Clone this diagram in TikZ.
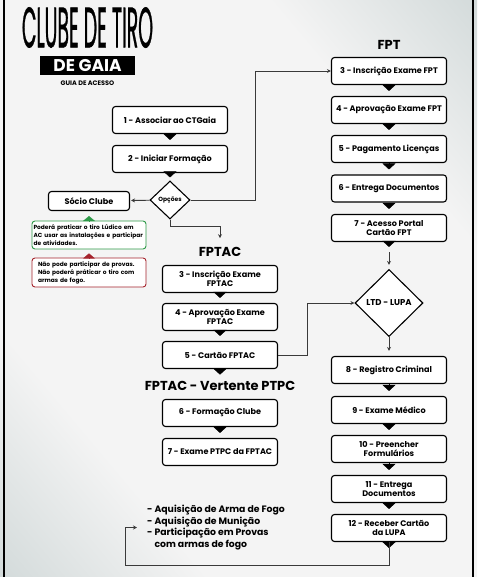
\documentclass[tikz,border=0pt]{standalone}
\usepackage{fontspec}
\setmainfont{Poppins}
\newfontfamily\titulofonte{Poppins}[FakeBold=1.2]
\usetikzlibrary{arrows.meta,shapes.geometric}

\definecolor{bgdark}{HTML}{B4C2C2}
\definecolor{bglight}{HTML}{F4F4F4}
\definecolor{verde}{HTML}{2E9A48}
\definecolor{vermelho}{HTML}{A5232C}
\definecolor{linha}{HTML}{3A3A3A}
\pgfdeclarehorizontalshading{fundo}{100bp}{color(0bp)=(bgdark); color(30bp)=(bglight); color(70bp)=(bglight); color(100bp)=(bgdark)}

\begin{document}
\begin{tikzpicture}[x=1pt,y=-1pt,
    passo/.style={draw, line width=1.1pt, rounded corners=3pt, fill=white,
        minimum width=115pt, minimum height=27pt, inner sep=1pt, align=center,
        font=\bfseries\fontsize{8.1}{9.4}\selectfont},
    decisao/.style={diamond, draw, line width=1.1pt, fill=white, inner sep=0pt,
        font=\bfseries\fontsize{6}{6.5}\selectfont},
    titulo/.style={inner sep=3pt, font=\bfseries\fontsize{13}{15}\selectfont},
    nota/.style={draw, line width=0.9pt, rounded corners=3pt, fill=white,
        minimum height=28pt, text width=111pt, align=left, inner xsep=1.5pt,
        font=\bfseries\fontsize{5.9}{8}\selectfont},
    tri/.style={-{Triangle[width=13pt,length=6pt]}, line width=0.4pt, shorten >=5pt},
    link/.style={-{Stealth[length=4pt,width=4pt]}, line width=0.9pt, draw=linha}]

    \useasboundingbox (0,0) rectangle (477,577);
    \fill[shading=fundo, shading angle=40] (0,0) rectangle (477,577);
    \draw[line width=1.2pt] (4,0) -- (4,577);
    \draw[line width=1.2pt] (473,0) -- (473,577);

    % cabecalho
    \node[inner sep=0pt] (clube) at (87.5,27.5) {\titulofonte\fontsize{27}{27}\selectfont\scalebox{0.7}[2.1]{CLUBE DE TIRO}};
    \node[fill=black, text=white, minimum width=95pt, minimum height=19pt, inner sep=0pt,
        font=\bfseries\fontsize{17}{17}\selectfont] (gaia) at (87.5,65.5) {DE GAIA};
    \node[font=\bfseries\fontsize{6.5}{7}\selectfont] (guia) at (87.5,83) {GUIA DE ACESSO};

    % inicio
    \node[passo] (b1) at (170,120) {1 - Associar ao CTGaia};
    \node[passo] (b2) at (170,159) {2 - Iniciar Formação};
    \node[decisao, minimum width=40pt, minimum height=38pt] (opc) at (170,200) {Opções};
    \node[passo, minimum width=81pt, minimum height=19pt] (socio) at (89,201) {Sócio Clube};
    \node[nota, draw=verde] (verdebox) at (89,235) {Poderá praticar o tiro Lúdico em\\AC usar as instalações e participar\\de atividades.};
    \node[nota, draw=vermelho, inner xsep=6pt, text width=102pt] (vermbox) at (89,272.5) {Não pode participar de provas.\\Não poderá práticar o tiro com\\armas de fogo.};

    % FPTAC
    \node[titulo] (fptac) at (220,252) {FPTAC};
    \node[passo] (c3) at (220,279) {3 - Inscrição Exame\\FPTAC};
    \node[passo] (c4) at (220,317) {4 - Aprovação Exame\\FPTAC};
    \node[passo] (c5) at (220,355) {5 - Cartão FPTAC};
    \node[titulo] (ptpc) at (220,386) {FPTAC - Vertente PTPC};
    \node[passo] (p6) at (220,413) {6 - Formação Clube};
    \node[passo] (p7) at (220,452) {7 - Exame PTPC da FPTAC};

    % FPT
    \node[titulo] (fpt) at (389,45) {FPT};
    \node[passo] (f3) at (389,71) {3 - Inscrição Exame FPT};
    \node[passo] (f4) at (389,110) {4 - Aprovação Exame FPT};
    \node[passo] (f5) at (389,149) {5 - Pagamento Licenças};
    \node[passo] (f6) at (389,188.5) {6 - Entrega Documentos};
    \node[passo] (f7) at (389,228) {7 - Acesso Portal\\Cartão FPT};

    % LUPA
    \node[decisao, minimum width=68pt, minimum height=67pt,
        font=\bfseries\fontsize{8.5}{9}\selectfont] (ltd) at (389,303) {LTD - LUPA};
    \node[passo] (l8) at (389,370) {8 - Registro Criminal};
    \node[passo] (l9) at (389,410) {9 - Exame Médico};
    \node[passo] (l10) at (389,449) {10 - Preencher\\Formulários};
    \node[passo] (l11) at (389,489) {11 - Entrega\\Documentos};
    \node[passo] (l12) at (389,528) {12 - Receber Cartão\\da LUPA};
    \node[anchor=west, inner xsep=9pt, align=left,
        font=\bfseries\fontsize{9.3}{11.5}\selectfont] (lista) at (138,527.5)
        {- Aquisição de Arma de Fogo\\- Aquisição de Munição\\- Participação em Provas\\\hphantom{- }com armas de fogo};
    \coordinate (volta) at (389,565);

    % ligacoes
    \draw[tri] (b1) -- (b2);
    \draw[tri, shorten >=3pt] (b2) -- (opc);
    \draw[link, shorten >=1pt] (opc) -- (socio);
    \draw[link] (opc.east) -- ++(65,0) |- (f3);
    \draw[link, shorten >=6pt] (opc.south) -- ++(0,7) -| (fptac);
    \draw[-{Triangle[width=12pt,length=5pt]}, verde, shorten >=5pt] (verdebox) -- (socio);
    \draw[-{Triangle[width=12pt,length=5pt]}, vermelho, shorten >=4pt] (vermbox) -- (verdebox);

    \draw[tri] (c3) -- (c4);
    \draw[tri] (c4) -- (c5);
    \draw[tri, shorten >=3.5pt] (c5) -- (ptpc);
    \draw[tri] (p6) -- (p7);
    \draw[link] (c5.east) -- ++(29,0) |- (ltd);

    \draw[tri] (f3) -- (f4);
    \draw[tri] (f4) -- (f5);
    \draw[tri] (f5) -- (f6);
    \draw[tri] (f6) -- (f7);
    \draw[tri, shorten >=22pt] (f7) -- (ltd);
    \draw[link, shorten <=10pt, shorten >=4pt] (f7) -- (ltd);
    \draw[link, shorten >=5pt] (ltd) -- (l8);

    \draw[tri] (l8) -- (l9);
    \draw[tri] (l9) -- (l10);
    \draw[tri] (l10) -- (l11);
    \draw[tri] (l11) -- (l12);
    \draw[tri, shorten >=17pt] (l12) -- (volta);
    \draw[link, shorten >=1pt] (l12) -- (volta) -| ([xshift=-13pt]lista.west) -- (lista.west);
\end{tikzpicture}
\end{document}
